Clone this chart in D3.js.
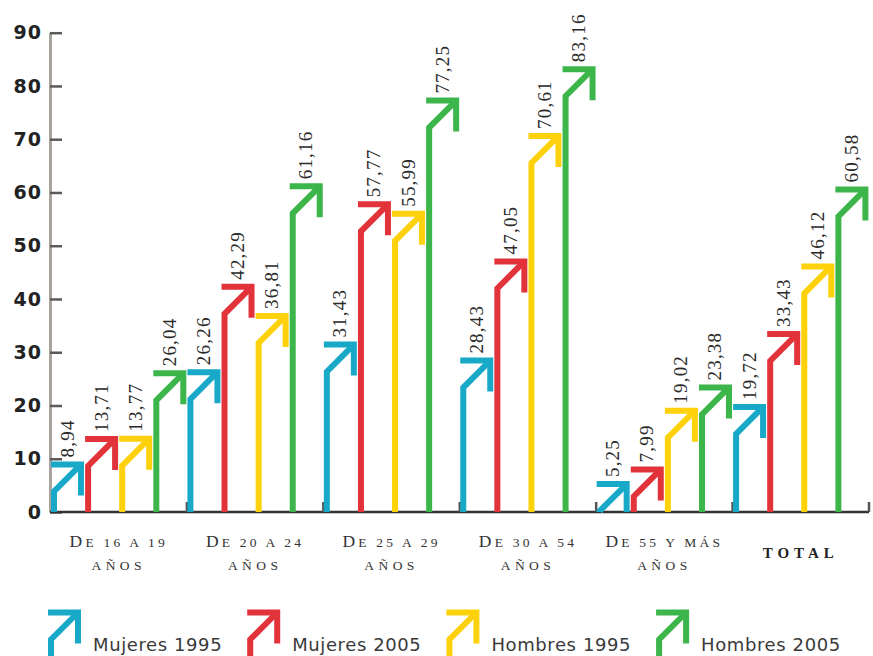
<!DOCTYPE html>
<html>
<head>
<meta charset="utf-8">
<script src="https://cdn.jsdelivr.net/npm/d3@7"></script>
<style>
  html, body { margin: 0; padding: 0; background: #fff; }
  svg { display: block; }
</style>
</head>
<body>
<svg id="chart" width="873" height="656"></svg>
<script>
// ---- data ----
const categoryLine1 = ["De 16 a 19", "De 20 a 24", "De 25 a 29", "De 30 a 54", "De 55 y más", "TOTAL"];
const categoryLine2 = ["años", "años", "años", "años", "años", ""];
const seriesNames = ["Mujeres 1995", "Mujeres 2005", "Hombres 1995", "Hombres 2005"];
const mujeres1995 = [8.94, 26.26, 31.43, 28.43, 5.25, 19.72];
const mujeres2005 = [13.71, 42.29, 57.77, 47.05, 7.99, 33.43];
const hombres1995 = [13.77, 36.81, 55.99, 70.61, 19.02, 46.12];
const hombres2005 = [26.04, 61.16, 77.25, 83.16, 23.38, 60.58];
const yTicks = [0, 10, 20, 30, 40, 50, 60, 70, 80, 90];
const seriesColors = ["#19a9c8", "#e2323a", "#fdd10b", "#3cb54a"];

const seriesValues = [mujeres1995, mujeres2005, hombres1995, hombres2005];

const svg = d3.select("#chart");
svg.append("rect").attr("width", 873).attr("height", 656).attr("fill", "#fff");

const base = 512;
const y = d3.scaleLinear().domain([0, 90]).range([base, 32.7]);
const x0 = d3.scaleBand().domain(d3.range(categoryLine1.length)).range([50.5, 869]).padding(0);
const x1 = d3.scaleBand().domain(seriesNames).range([0, x0.bandwidth()]).padding(0);

const D = 27, HEAD = 31, SW = 6;
function shaftPath(xs, yt, yb) {
  const ys = Math.min(yb, yt + D);
  return `M${xs},${yb}L${xs},${ys}L${xs + D},${yt}`;
}
function headPath(xs, yt, yb) {
  return `M${xs - SW / 2},${yt}L${xs + D},${yt}L${xs + D},${Math.min(yb, yt + HEAD)}`;
}
const fmt = v => d3.format(".2f")(v).replace(".", ",");

// ---- y axis ----
const yAxis = d3.axisLeft(y).tickValues(yTicks).tickSizeInner(-12).tickSizeOuter(0).tickPadding(8);
const gy = svg.append("g").attr("transform", "translate(50,0)").call(yAxis);
gy.select(".domain").attr("stroke", "#a9a39d").attr("stroke-width", 3);
gy.selectAll(".tick line").attr("stroke", "#5a5a5a").attr("stroke-width", 2.5);
gy.selectAll(".tick text")
  .attr("font-family", "DejaVu Sans").attr("font-weight", "bold")
  .attr("font-size", 19).attr("letter-spacing", 1).attr("fill", "#222");

// ---- baseline & group ticks ----
svg.append("line").attr("x1", 50).attr("x2", 869).attr("y1", base).attr("y2", base)
  .attr("stroke", "#333").attr("stroke-width", 2.5);
const bounds = d3.range(1, categoryLine1.length + 1).map(i => i < categoryLine1.length ? x0(i) : x0.range()[1]);
svg.append("g").selectAll("line").data(bounds).join("line")
  .attr("x1", d => d).attr("x2", d => d).attr("y1", base - 10).attr("y2", base)
  .attr("stroke", "#555").attr("stroke-width", 2.5);

// ---- arrows ----
const marks = [];
seriesNames.forEach((s, si) => {
  seriesValues[si].forEach((v, ci) => {
    marks.push({ s, si, ci, v, xs: x0(ci) + x1(s) + 3.5 });
  });
});
const g = svg.append("g");
const mg = g.selectAll("g.mark").data(marks).join("g").attr("class", "mark");
mg.append("path").attr("d", d => shaftPath(d.xs, y(d.v), base))
  .attr("fill", "none").attr("stroke", d => seriesColors[d.si]).attr("stroke-width", SW)
  .attr("stroke-linejoin", "miter");
mg.append("path").attr("d", d => headPath(d.xs, y(d.v), base))
  .attr("fill", "none").attr("stroke", d => seriesColors[d.si]).attr("stroke-width", SW)
  .attr("stroke-linejoin", "miter");
mg.append("text")
  .attr("transform", d => `translate(${d.xs + 13},${y(d.v) - 7}) rotate(-90)`)
  .attr("dominant-baseline", "central")
  .attr("font-family", "Liberation Serif").attr("font-size", 19).attr("letter-spacing", 1.2)
  .attr("fill", "#2a2a2a")
  .text(d => fmt(d.v));

// ---- category labels ----
const cg = svg.append("g");
function capsLine(sel, str, size, bigSize) {
  // first letter as a full capital, rest as smaller capitals
  sel.append("tspan").attr("font-size", bigSize).text(str.charAt(0).toUpperCase());
  sel.append("tspan").attr("font-size", size).text(str.slice(1).toUpperCase());
}
categoryLine1.forEach((c, i) => {
  const cx = x0(i) + x0.bandwidth() / 2;
  if (categoryLine2[i]) {
    const t1 = cg.append("text").attr("x", cx).attr("y", 547).attr("text-anchor", "middle")
      .attr("font-family", "Liberation Serif").attr("letter-spacing", 3.2).attr("fill", "#333");
    capsLine(t1, c, 13.5, 17.5);
    cg.append("text").attr("x", cx).attr("y", 570).attr("text-anchor", "middle")
      .attr("font-family", "Liberation Serif").attr("font-size", 13.5)
      .attr("letter-spacing", 4.4).attr("fill", "#333")
      .text(categoryLine2[i].toUpperCase());
  } else {
    cg.append("text").attr("x", cx).attr("y", 558).attr("text-anchor", "middle")
      .attr("font-family", "Liberation Serif").attr("font-size", 15).attr("font-weight", "bold")
      .attr("letter-spacing", 5).attr("fill", "#222")
      .text(c);
  }
});

// ---- legend ----
const lg = svg.append("g");
let lx = 51;
seriesNames.forEach((s, si) => {
  const tipY = 612.5;
  lg.append("path").attr("d", shaftPath(lx, tipY, 660))
    .attr("fill", "none").attr("stroke", seriesColors[si]).attr("stroke-width", SW);
  lg.append("path").attr("d", headPath(lx, tipY, 660))
    .attr("fill", "none").attr("stroke", seriesColors[si]).attr("stroke-width", SW);
  const t = lg.append("text").attr("x", lx + 42).attr("y", 651)
    .attr("font-family", "DejaVu Sans").attr("font-size", 18).attr("letter-spacing", 0.6)
    .attr("fill", "#3a3a3a").text(s);
  const w = t.node().getComputedTextLength();
  lx = lx + 42 + w + 28;
});
</script>
</body>
</html>
